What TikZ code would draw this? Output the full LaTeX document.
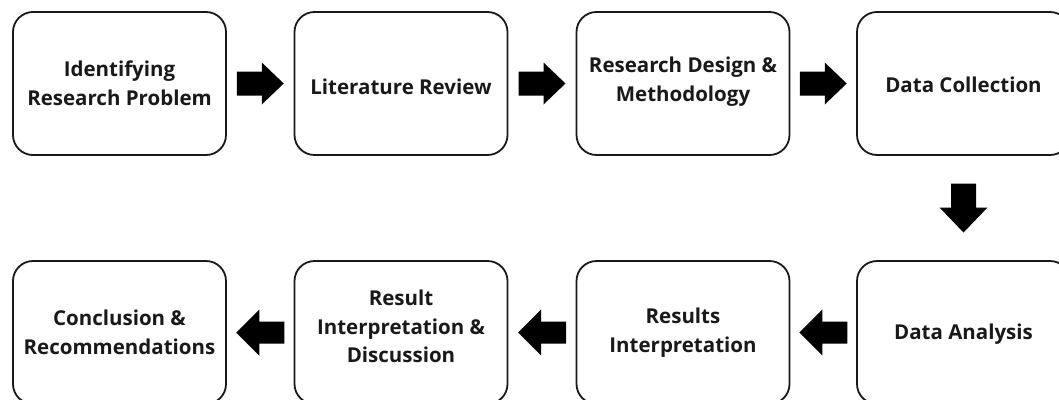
\documentclass[tikz,border=0pt]{standalone}
\usepackage{fontspec}
\setmainfont{Open Sans}
\usetikzlibrary{calc}
\tikzset{
  stepbox/.style={draw=black!90, line width=1.8pt, rounded corners=20pt, fill=white,
    minimum width=213pt, minimum height=143pt, inner sep=0pt},
  steptext/.style={align=center, inner sep=0pt,
    font=\bfseries\fontsize{20.5}{28.5}\selectfont, text=black!90},
  rarrow/.style={fill=black},
}
\newcommand{\blockarrowR}[1]{\fill[rarrow] ($#1+(-23.5,-12)$) -- ++(25,0) -- ++(0,-9) -- ++(22,21) -- ++(-22,21) -- ++(0,-9) -- ++(-25,0) -- cycle;}
\newcommand{\blockarrowL}[1]{\fill[rarrow] ($#1+(24,-11)$) -- ++(-25,0) -- ++(0,-12) -- ++(-23,23) -- ++(23,23) -- ++(0,-12) -- ++(25,0) -- cycle;}
\newcommand{\blockarrowD}[1]{\fill[rarrow] ($#1+(-12.5,-24.5)$) -- ++(0,24) -- ++(-11.5,0) -- ++(24,25) -- ++(24,-25) -- ++(-11.5,0) -- ++(0,-24) -- cycle;}
\begin{document}
\begin{tikzpicture}[x=1pt,y=-1pt]
\useasboundingbox (0,0) rectangle (1059,399);
\clip (0,0) rectangle (1059,399);
\node[stepbox] (b1) at (119.5,83.5) {};
\node[stepbox] (b2) at (401,83.5) {};
\node[stepbox] (b3) at (683,83.5) {};
\node[stepbox] (b4) at (963.5,83.5) {};
\node[stepbox] (b5) at (963.5,332.5) {};
\node[stepbox] (b6) at (683,332.5) {};
\node[stepbox] (b7) at (401,332.5) {};
\node[stepbox] (b8) at (119.5,332.5) {};
\node[steptext] (t1) at ($(b1)+(0,0)$) {Identifying\\Research Problem};
\node[steptext] (t2) at ($(b2)+(0,3)$) {Literature Review};
\node[steptext] (t3) at ($(b3)+(0,-2)$) {Research Design \&\\Methodology};
\node[steptext] (t4) at ($(b4)+(0,1)$) {Data Collection};
\node[steptext] (t5) at ($(b5)+(0,2)$) {Data Analysis};
\node[steptext] (t6) at ($(b6)+(0,0)$) {Results\\Interpretation};
\node[steptext] (t7) at ($(b7)+(0,-6)$) {Result\\Interpretation \&\\Discussion};
\node[steptext] (t8) at ($(b8)+(0,0)$) {Conclusion \&\\Recommendations};
\blockarrowR{($(b1.east)!0.5!(b2.west)$)}
\blockarrowR{($(b2.east)!0.5!(b3.west)$)}
\blockarrowR{($(b3.east)!0.5!(b4.west)$)}
\blockarrowD{($(b4.south)!0.5!(b5.north)$)}
\blockarrowL{($(b5.west)!0.5!(b6.east)$)}
\blockarrowL{($(b6.west)!0.5!(b7.east)$)}
\blockarrowL{($(b7.west)!0.5!(b8.east)$)}
\end{tikzpicture}
\end{document}
